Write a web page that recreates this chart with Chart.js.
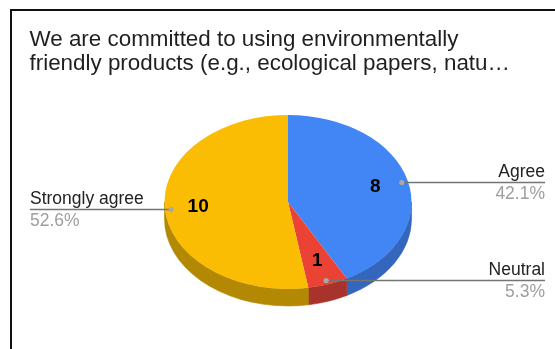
<!DOCTYPE html>
<html>
<head>
<meta charset="utf-8">
<script src="https://cdn.jsdelivr.net/npm/chart.js@4/dist/chart.umd.min.js"></script>
<style>
  html, body { margin: 0; padding: 0; background: #fff; }
  #wrap { position: relative; width: 555px; height: 349px; overflow: hidden; }
  #frame { position: absolute; left: 10px; top: 9px; width: 600px; height: 400px;
           border-left: 2px solid #111; border-top: 2px solid #111; }
  #chart { position: absolute; left: 0; top: 0; }
</style>
</head>
<body>
<div id="wrap">
  <div id="frame"></div>
  <canvas id="chart" width="555" height="349"></canvas>
</div>
<script>
// Survey answers
const categories = ['Agree', 'Neutral', 'Strongly agree'];
const responses = [8, 1, 10];
const sliceColors = ['#4285f4', '#ea4335', '#fbbc04'];
const sideColors = ['#3466bd', '#a8332b', '#b38803'];
const titleLines = [
  'We are committed to using environmentally',
  'friendly products (e.g., ecological papers, natu\u2026'
];

const total = responses.reduce((a, b) => a + b, 0);
const percentLabels = responses.map(v => (v / total * 100).toFixed(1) + '%');

// 3D look: flattened top face plus a darker rim along the front half
const TILT = 87 / 123.5;
const DEPTH = 17;
const FONT = '"Liberation Sans", Arial, sans-serif';

const pie3d = {
  id: 'pie3d',
  beforeDatasetsDraw(chart) {
    const ctx = chart.ctx;
    const arcs = chart.getDatasetMeta(0).data;
    const cx = arcs[0].x, cy = arcs[0].y;
    const rx = arcs[0].outerRadius, ry = rx * TILT;
    ctx.save();
    arcs.forEach((arc, i) => {
      const s = Math.max(arc.startAngle, 0);
      const e = Math.min(arc.endAngle, Math.PI);
      if (e <= s) return;
      ctx.beginPath();
      ctx.ellipse(cx, cy, rx, ry, 0, s, e, false);
      ctx.lineTo(cx + rx * Math.cos(e), cy + ry * Math.sin(e) + DEPTH);
      ctx.ellipse(cx, cy + DEPTH, rx, ry, 0, e, s, true);
      ctx.closePath();
      ctx.fillStyle = sideColors[i];
      ctx.fill();
      ctx.strokeStyle = sideColors[i];
      ctx.lineWidth = 0.6;
      ctx.stroke();
    });
    ctx.restore();
    // squash the circular slices into an ellipse
    ctx.save();
    ctx.translate(cx, cy);
    ctx.scale(1, TILT);
    ctx.translate(-cx, -cy);
  },
  afterDatasetsDraw(chart) {
    const ctx = chart.ctx;
    ctx.restore();
    const arcs = chart.getDatasetMeta(0).data;
    const cx = arcs[0].x, cy = arcs[0].y;
    const rx = arcs[0].outerRadius, ry = rx * TILT;
    const leftX = 30, rightX = 545;

    ctx.save();
    arcs.forEach((arc, i) => {
      const mid = (arc.startAngle + arc.endAngle) / 2;
      const c = Math.cos(mid), s = Math.sin(mid);

      // value inside the slice
      ctx.font = 'bold 19px ' + FONT;
      ctx.fillStyle = '#000';
      ctx.textAlign = 'center';
      ctx.textBaseline = 'middle';
      ctx.fillText(String(responses[i]), cx + 0.73 * rx * c, cy + 0.72 * ry * s);

      // leader line with anchor dot
      const dx = cx + 0.95 * rx * c;
      const dy = Math.round(cy + 0.95 * ry * s) + 0.5;
      const onRight = c > 0;
      const endX = onRight ? rightX : leftX;
      ctx.beginPath();
      ctx.moveTo(dx, dy);
      ctx.lineTo(endX, dy);
      ctx.strokeStyle = '#757575';
      ctx.lineWidth = 1.3;
      ctx.stroke();
      ctx.beginPath();
      ctx.arc(dx, dy, 2.6, 0, Math.PI * 2);
      ctx.fillStyle = '#a8a8a8';
      ctx.fill();

      // category name above, share below
      ctx.textAlign = onRight ? 'right' : 'left';
      ctx.textBaseline = 'alphabetic';
      ctx.font = '17.5px ' + FONT;
      ctx.fillStyle = '#222';
      ctx.fillText(categories[i], endX, dy - 5.5);
      ctx.fillStyle = '#9e9e9e';
      ctx.fillText(percentLabels[i], endX, dy + 16.5);
    });

    // chart title
    ctx.font = '22.4px ' + FONT;
    ctx.fillStyle = '#1f1f1f';
    ctx.textAlign = 'left';
    ctx.textBaseline = 'alphabetic';
    ctx.fillText(titleLines[0], 29.5, 46);
    ctx.fillText(titleLines[1], 29.5, 70);
    ctx.restore();
  }
};

new Chart(document.getElementById('chart'), {
  type: 'pie',
  data: {
    labels: categories,
    datasets: [{
      data: responses,
      backgroundColor: sliceColors,
      borderWidth: 0
    }]
  },
  options: {
    responsive: false,
    animation: false,
    radius: 123.5,
    layout: { padding: { left: 164.5, right: 143.5, top: 78.5, bottom: 23.5 } },
    plugins: {
      legend: { display: false },
      tooltip: { enabled: false },
      title: { display: false }
    },
    events: []
  },
  plugins: [pie3d]
});
</script>
</body>
</html>
